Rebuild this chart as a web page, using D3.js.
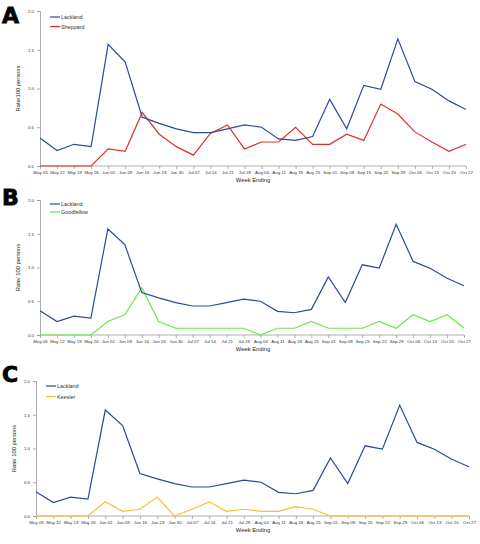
<!DOCTYPE html>
<html><head><meta charset="utf-8">
<script src="https://cdn.jsdelivr.net/npm/d3@7"></script>
<style>body{margin:0;background:#fff}svg{display:block}</style>
</head><body>
<svg id="c" width="480" height="544"></svg>
<script>
const weeks = ["May 05","May 12","May 19","May 26","Jun 02","Jun 09","Jun 16","Jun 23","Jun 30","Jul 07","Jul 14","Jul 21","Jul 28","Aug 04","Aug 11","Aug 18","Aug 25","Sep 01","Sep 08","Sep 15","Sep 22","Sep 29","Oct 06","Oct 13","Oct 20","Oct 27"];
const lackland = [0.36,0.20,0.28,0.25,1.57,1.34,0.63,0.55,0.48,0.43,0.43,0.48,0.53,0.50,0.35,0.33,0.38,0.86,0.48,1.04,0.99,1.64,1.09,0.99,0.84,0.73];
const sheppard = [0,0,0,0,0.22,0.19,0.69,0.41,0.25,0.14,0.42,0.53,0.22,0.31,0.31,0.50,0.28,0.28,0.41,0.33,0.80,0.67,0.44,0.31,0.19,0.28];
const goodfellow = [0,0,0,0,0.2,0.3,0.7,0.2,0.1,0.1,0.1,0.1,0.1,0.0,0.1,0.1,0.2,0.1,0.1,0.1,0.2,0.1,0.3,0.2,0.3,0.1];
const keesler = [0,0,0,0,0.21,0.07,0.10,0.28,0.0,0.10,0.21,0.07,0.10,0.07,0.07,0.14,0.10,0,0,0,0,0,0,0,0,0];
const yTicks = [0,0.5,1.0,1.5,2.0];

const panels = [
  {letter:"A", ylab:"Rate/100 persons", other:"Sheppard", vals:sheppard, col:"#e0302c",
   l:40, r:466, t:11, b:166, ly:17, lx:20, letY:23},
  {letter:"B", ylab:"Rate/ 100 persons", other:"Goodfellow", vals:goodfellow, col:"#66e84a",
   l:40, r:464, t:200, b:335, ly:204, lx:20, letY:205},
  {letter:"C", ylab:"Rate/ 100 persons", other:"Keesler", vals:keesler, col:"#f2c232",
   l:36, r:469, t:381, b:516, ly:386, lx:16, letY:382}
];
const blue = "#2b4a9b";
const svg = d3.select("#c");
const ff = "Liberation Sans, Arial, sans-serif";

panels.forEach(p => {
  const g = svg.append("g");
  const x = d3.scalePoint().domain(weeks).range([p.l, p.r]);
  const y = d3.scaleLinear().domain([0,2]).range([p.b, p.t]);

  g.append("text").attr("x", 2).attr("y", p.letY)
    .attr("font-family", "DejaVu Sans, sans-serif").attr("font-weight", "900")
    .attr("font-size", 22).attr("stroke", "#000").attr("stroke-width", 0.8).text(p.letter);

  const ya = g.append("g").attr("transform", `translate(${p.l},0)`)
    .call(d3.axisLeft(y).tickValues(yTicks).tickFormat(d3.format(".1f")).tickSize(3).tickPadding(3));
  const xa = g.append("g").attr("transform", `translate(0,${p.b})`)
    .call(d3.axisBottom(x).tickSize(3).tickPadding(2));
  [ya, xa].forEach(a => {
    a.select(".domain").attr("stroke", "#999").attr("stroke-width", 0.8);
    a.selectAll(".tick line").attr("stroke", "#999").attr("stroke-width", 0.8);
    a.selectAll("text").attr("font-family", ff).attr("font-size", 4.4).attr("fill", "#333");
  });
  xa.select(".domain").attr("d", `M${p.l},0H${p.r}`);

  g.append("text").attr("transform", `translate(${p.lx},${(p.t+p.b)/2}) rotate(-90)`)
    .attr("text-anchor", "middle").attr("font-family", ff).attr("font-size", 5.8)
    .attr("fill", "#222").text(p.ylab);
  g.append("text").attr("x", 253).attr("y", p.b + 16).attr("text-anchor", "middle")
    .attr("font-family", ff).attr("font-size", 5.8).attr("fill", "#222").text("Week Ending");

  const line = d3.line().x((d,i) => x(weeks[i])).y(d => y(d));
  g.append("path").datum(p.vals).attr("d", line).attr("fill", "none")
    .attr("stroke", p.col).attr("stroke-width", 1.2);
  g.append("path").datum(lackland).attr("d", line).attr("fill", "none")
    .attr("stroke", blue).attr("stroke-width", 1.2);

  const leg = [{n:"Lackland", c:blue}, {n:p.other, c:p.col}];
  const gap = p.letter==="A" ? 9.5 : (p.letter==="B" ? 8 : 10.5);
  leg.forEach((d,i) => {
    const yy = p.ly + i*gap;
    g.append("line").attr("x1", p.l+10).attr("x2", p.l+20).attr("y1", yy).attr("y2", yy)
      .attr("stroke", d.c).attr("stroke-width", 1.2);
    g.append("text").attr("x", p.l+21).attr("y", yy+2).attr("font-family", ff)
      .attr("font-size", 5.4).attr("fill", "#333").text(d.n);
  });
});
</script>
</body></html>
